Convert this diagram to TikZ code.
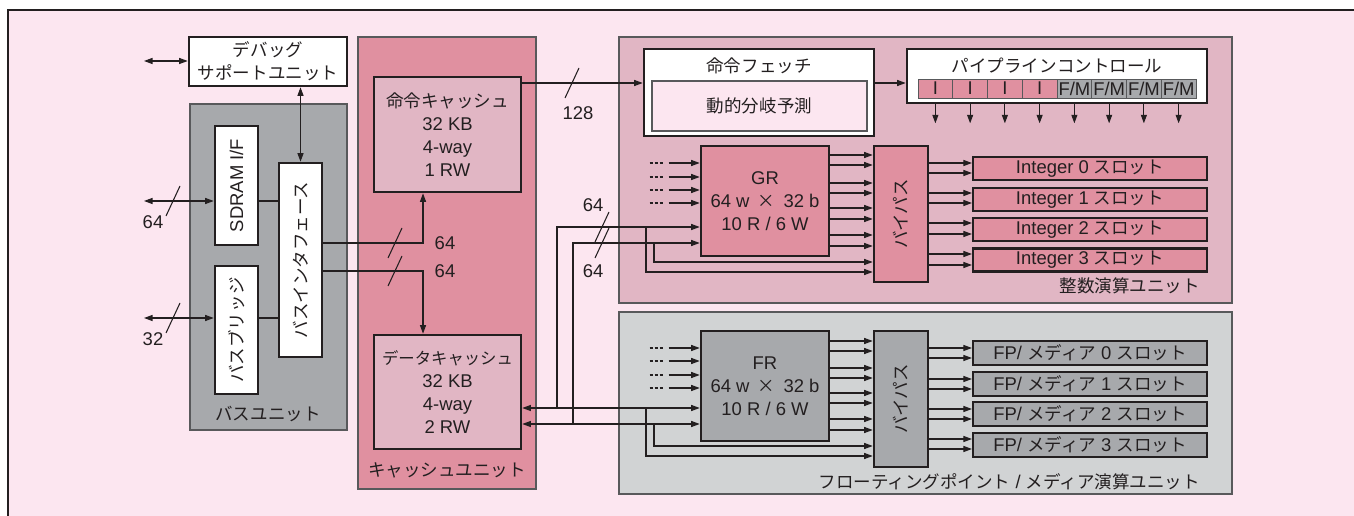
\documentclass[tikz,border=0pt]{standalone}
\usepackage{fontspec}
\setmainfont{Liberation Sans}
\newfontfamily\jp[Scale=0.95]{Noto Sans CJK JP}
\usepackage{tikz}
\usetikzlibrary{arrows.meta, positioning, calc}
\definecolor{mydark}{RGB}{35,31,32}
\definecolor{myframe}{RGB}{88,89,91}
\definecolor{bgpink}{RGB}{252,230,240}
\definecolor{myrose}{RGB}{224,144,160}
\definecolor{mymauve}{RGB}{225,182,196}
\definecolor{mygray}{RGB}{167,169,172}
\definecolor{mylgray}{RGB}{209,211,212}
\newlength\pxu
\setlength\pxu{0.02cm}
\newcommand\jfs{\fontsize{10.5}{13}\selectfont}
\tikzset{
  unitarea/.style={draw=myframe, line width=0.6pt},
  blkbox/.style={rectangle, draw=mydark, line width=1.5pt, inner sep=0pt,
    align=center, font=\jfs},
  slotbox/.style={rectangle, draw=mydark, line width=1.2pt, inner sep=0pt,
    minimum width=234\pxu, font=\jfs},
  cellbox/.style={rectangle, draw=myframe, line width=0.5pt, inner sep=0pt,
    minimum width=34.75\pxu, minimum height=19\pxu, font=\fontsize{10.5}{10.5}\selectfont},
  arrow/.style={-{Triangle[length=1.7mm, width=1.2mm]}, line width=0.6pt, color=mydark},
  dblarrow/.style={{Triangle[length=1.7mm, width=1.2mm]}-{Triangle[length=1.7mm, width=1.2mm]},
    line width=0.6pt, color=mydark},
  line/.style={line width=0.6pt, color=mydark},
  dotline/.style={line width=0.6pt, color=mydark, dash pattern=on 3\pxu off 2\pxu},
  busw/.pic={\draw[line] (7,-15) -- (-7,15);}
}

\begin{document}
\begin{tikzpicture}[x=0.02cm, y=-0.02cm, font=\jfs, text=mydark]
  \useasboundingbox (0,0) rectangle (1354,516);
  % Background
  \fill[bgpink] (8,10) rectangle (1354,516);
  \draw[line] (8,516) -- (8,10) -- (1354,10);

  % Bus unit
  \draw[unitarea, fill=mygray] (190,104) rectangle (347,430);
  \node at (268,414) {\jp バスユニット};
  \node[blkbox, fill=white, minimum width=158\pxu, minimum height=49\pxu] (debug) at (268,61.5) {\jp デバッグ\\\jp サポートユニット};
  \node[blkbox, fill=white, minimum width=43\pxu, minimum height=119\pxu] (sdram) at (236.5,185.5) {};
  \node[rotate=90] at (sdram) {SDRAM I/F};
  \node[blkbox, fill=white, minimum width=43\pxu, minimum height=194\pxu] (busif) at (300.5,260) {};
  \node[rotate=90] at (busif) {\jp バスインタフェース};
  \node[blkbox, fill=white, minimum width=43\pxu, minimum height=128\pxu] (bridge) at (236.5,330) {};
  \node[rotate=90] at (bridge) {\jp バスブリッジ};

  % Cache unit
  \draw[unitarea, fill=myrose] (358,37) rectangle (536,489);
  \node at (447,470) {\jp キャッシュユニット};
  \node[blkbox, fill=mymauve, minimum width=147\pxu, minimum height=115\pxu] (icache) at (447.5,134.5) {{\jp 命令キャッシュ}\\32 KB\\4-way\\1 RW};
  \node[blkbox, fill=mymauve, minimum width=147\pxu, minimum height=114\pxu] (dcache) at (447.5,392) {{\fontsize{9.8}{13}\selectfont\jp データキャッシュ}\\32 KB\\4-way\\2 RW};

  % Integer unit
  \draw[unitarea, fill=mymauve] (619,37) rectangle (1232,303);
  \node[anchor=east] at (1206,286) {\jp 整数演算ユニット};
  \node[blkbox, fill=white, minimum width=230\pxu, minimum height=87\pxu] (fetch) at (759,92.5) {};
  \node (fetcht) at (759,66) {\jp 命令フェッチ};
  \node[rectangle, draw=myframe, line width=0.6pt, fill=bgpink, minimum width=215\pxu, minimum height=50\pxu] (bpred) at (759.5,106) {\jp 動的分岐予測};
  \node[blkbox, fill=white, minimum width=300\pxu, minimum height=54\pxu] (pipe) at (1057,76) {};
  \node (pipet) at (1057,66) {\jp パイプラインコントロール};
  \foreach \i in {0,...,3}
    \node[cellbox, fill=myrose] (c\i) at ({918+34.75*(\i+0.5)},88.5) {I};
  \foreach \i in {4,...,7}
    \node[cellbox, fill=mygray] (c\i) at ({918+34.75*(\i+0.5)},88.5) {F/M};
  \foreach \i in {0,...,7}
    \draw[arrow] (c\i |- pipe.south) -- ++(0,19);
  \node[blkbox, fill=myrose, minimum width=128\pxu, minimum height=110\pxu] (gr) at (765,201) {GR\\64 w \,{\jp ×}\, 32 b\\10 R / 6 W};
  \node[blkbox, fill=myrose, minimum width=54\pxu, minimum height=136\pxu] (ibyp) at (901,214) {};
  \node[rotate=90] at (ibyp) {\jp バイパス};
  \foreach \i/\y in {0/168.5, 1/199.5, 2/229.5, 3/260}
    \node[slotbox, fill=myrose, minimum height=23\pxu] (is\i) at (1090,\y) {Integer \i\ {\jp スロット}};

  % FP / media unit
  \draw[unitarea, fill=mylgray] (619,312) rectangle (1232,494);
  \node[anchor=east] at (1206,482) {{\jp フローティングポイント} / {\jp メディア演算ユニット}};
  \node[blkbox, fill=mygray, minimum width=128\pxu, minimum height=110\pxu] (fr) at (765,386) {FR\\64 w \,{\jp ×}\, 32 b\\10 R / 6 W};
  \node[blkbox, fill=mygray, minimum width=54\pxu, minimum height=136\pxu] (fbyp) at (901,399) {};
  \node[rotate=90] at (fbyp) {\jp バイパス};
  \foreach \i/\y in {0/353, 1/384, 2/414, 3/445}
    \node[slotbox, fill=mygray, minimum height=24\pxu] (fs\i) at (1090,\y) {FP/ {\jp メディア} \i\ {\jp スロット}};

  % Bus unit connections
  \coordinate (dbgL) at (144,61);
  \draw[dblarrow] (dbgL) -- (dbgL -| debug.west);
  \draw[dblarrow] (busif.north) -- (busif.north |- debug.south);
  \coordinate (sdL) at (144,201);
  \draw[dblarrow] (sdL) -- (sdL -| sdram.west);
  \draw[line] (sdL -| sdram.east) -- (sdL -| busif.west);
  \pic at (173,201) {busw};
  \node at (153,222) {64};
  \coordinate (brL) at (144,318);
  \draw[dblarrow] (brL) -- (brL -| bridge.west);
  \draw[line] (brL -| bridge.east) -- (brL -| busif.west);
  \pic at (173,318) {busw};
  \node at (153,339) {32};

  % Bus interface to caches
  \coordinate (ic64) at (423,243);
  \draw[arrow] (ic64 -| busif.east) -- (ic64) -- (ic64 |- icache.south);
  \pic at (395,243) {busw};
  \node at (445,243) {64};
  \coordinate (dc64) at (423,271);
  \draw[arrow] (dc64 -| busif.east) -- (dc64) -- (dc64 |- dcache.north);
  \pic at (395,271) {busw};
  \node at (445,271) {64};

  % Fetch path
  \coordinate (if128) at (572,83);
  \draw[arrow] (if128 -| icache.east) -- (if128 -| fetch.west);
  \pic at (572,83) {busw};
  \node at (578,113) {128};
  \draw[arrow] (if128 -| fetch.east) -- (if128 -| pipe.west);

  % Register file inputs
  \foreach \y in {163,177,190,203} {
    \draw[dotline] (gr.west |- 0,\y) ++(-50,0) -- ++(13,0);
    \draw[arrow] (gr.west |- 0,\y) ++(-31,0) -- ++(31,0);
  }
  \foreach \y in {348,361,375,388} {
    \draw[dotline] (fr.west |- 0,\y) ++(-50,0) -- ++(13,0);
    \draw[arrow] (fr.west |- 0,\y) ++(-31,0) -- ++(31,0);
  }

  % Load / store paths
  \coordinate (ldA) at (557,227);
  \coordinate (ldB) at (573,243);
  \coordinate (stA) at (557,408);
  \coordinate (stB) at (573,424);
  \draw[arrow] (stA) -- (ldA) -- (ldA -| gr.west);
  \draw[arrow] (stB) -- (ldB) -- (ldB -| gr.west);
  \draw[dblarrow] (stA -| dcache.east) -- (stA -| fr.west);
  \draw[dblarrow] (stB -| dcache.east) -- (stB -| fr.west);
  \pic at (602,227) {busw};
  \pic at (602,243) {busw};
  \node at (593,205) {64};
  \node at (593,271) {64};
  \coordinate (bA) at (646,272);
  \coordinate (bB) at (654,262);
  \draw[arrow] (bA |- ldA) -- (bA) -- (bA -| ibyp.west);
  \draw[arrow] (bB |- ldB) -- (bB) -- (bB -| ibyp.west);
  \coordinate (fA) at (646,456);
  \coordinate (fB) at (654,446);
  \draw[arrow] (fA |- stA) -- (fA) -- (fA -| fbyp.west);
  \draw[arrow] (fB |- stB) -- (fB) -- (fB -| fbyp.west);

  % Register files to bypass, bypass to slots
  \foreach \y in {155,165,183,193,208,219,235,246}
    \draw[arrow] (gr.east |- 0,\y) -- (ibyp.west |- 0,\y);
  \foreach \y in {163,173,193,203,223,234,254,265}
    \draw[arrow] (ibyp.east |- 0,\y) -- (is0.west |- 0,\y);
  \foreach \y in {341,351,368,378,393,403,419,430}
    \draw[arrow] (fr.east |- 0,\y) -- (fbyp.west |- 0,\y);
  \foreach \y in {348,358,379,389,409,419,439,449}
    \draw[arrow] (fbyp.east |- 0,\y) -- (fs0.west |- 0,\y);
\end{tikzpicture}
\end{document}
